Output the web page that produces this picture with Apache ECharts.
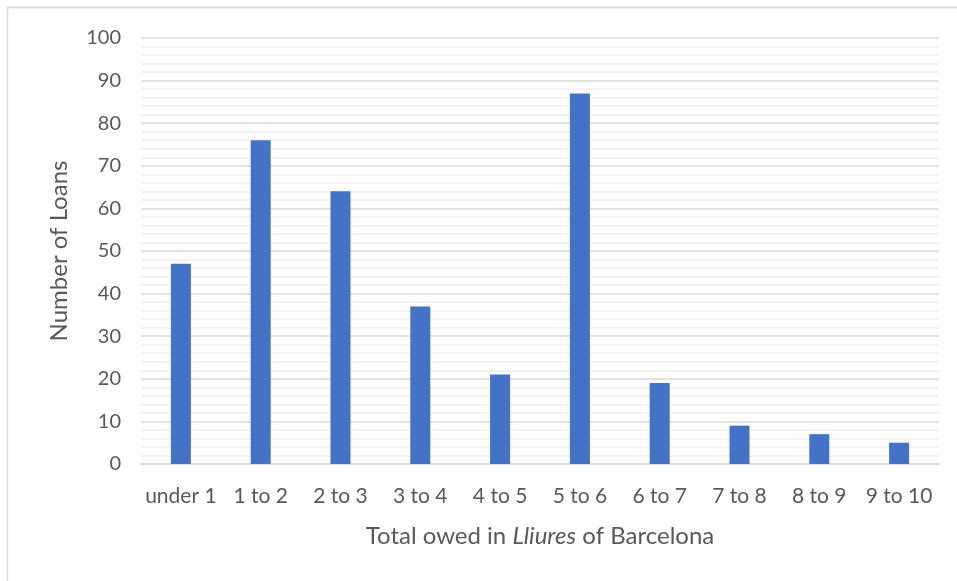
<!DOCTYPE html>
<html>
<head>
<meta charset="utf-8">
<script src="https://cdn.jsdelivr.net/npm/echarts@6/dist/echarts.min.js"></script>
<style>
  html, body { margin: 0; padding: 0; background: #fff; }
  #chart { width: 957px; height: 581px; }
</style>
</head>
<body>
<div id="chart"></div>
<script>
// loan size bands
const categories = ['under 1', '1 to 2', '2 to 3', '3 to 4', '4 to 5', '5 to 6', '6 to 7', '7 to 8', '8 to 9', '9 to 10']
// number of loans per band
const loanCounts = [47, 76, 64, 37, 21, 87, 19, 9, 7, 5]

const textColor = '#595959'
const fontFamily = 'Lato, "Open Sans", sans-serif'

const chart = echarts.init(document.getElementById('chart'))
chart.setOption({
  animation: false,
  backgroundColor: '#fff',
  graphic: [{
    // outer frame of the chart area
    type: 'rect',
    shape: { x: 7.5, y: 7.5, width: 1000, height: 600 },
    style: { fill: 'none', stroke: '#d9d9d9', lineWidth: 1.5 }
  }],
  grid: {
    left: 141,
    right: 18,
    top: 38,
    bottom: 117
  },
  xAxis: {
    type: 'category',
    data: categories,
    axisTick: { show: false },
    axisLine: { lineStyle: { color: '#d9d9d9', width: 1.5 } },
    axisLabel: {
      color: textColor,
      fontFamily: fontFamily,
      fontSize: 21,
      margin: 22,
      interval: 0
    },
    name: '{n|Total owed in }{i|Lliures}{n| of Barcelona}',
    nameLocation: 'middle',
    nameGap: 60,
    nameTextStyle: {
      rich: {
        n: { color: textColor, fontFamily: fontFamily, fontSize: 24 },
        i: { color: textColor, fontFamily: fontFamily, fontSize: 24, fontStyle: 'italic' }
      }
    }
  },
  yAxis: {
    type: 'value',
    min: 0,
    max: 100,
    interval: 10,
    axisLine: { show: false },
    axisTick: { show: false },
    axisLabel: {
      color: textColor,
      fontFamily: fontFamily,
      fontSize: 20,
      margin: 20
    },
    splitLine: { lineStyle: { color: '#d9d9d9', width: 1.5 } },
    minorTick: { show: false, splitNumber: 5 },
    minorSplitLine: { show: true, lineStyle: { color: '#efefef', width: 1.5 } },
    name: 'Number of Loans',
    nameLocation: 'middle',
    nameGap: 70,
    nameRotate: 90,
    nameTextStyle: { color: textColor, fontFamily: fontFamily, fontSize: 24 }
  },
  series: [{
    type: 'bar',
    data: loanCounts,
    barWidth: 20,
    itemStyle: { color: '#4472c4' }
  }]
})
</script>
</body>
</html>
